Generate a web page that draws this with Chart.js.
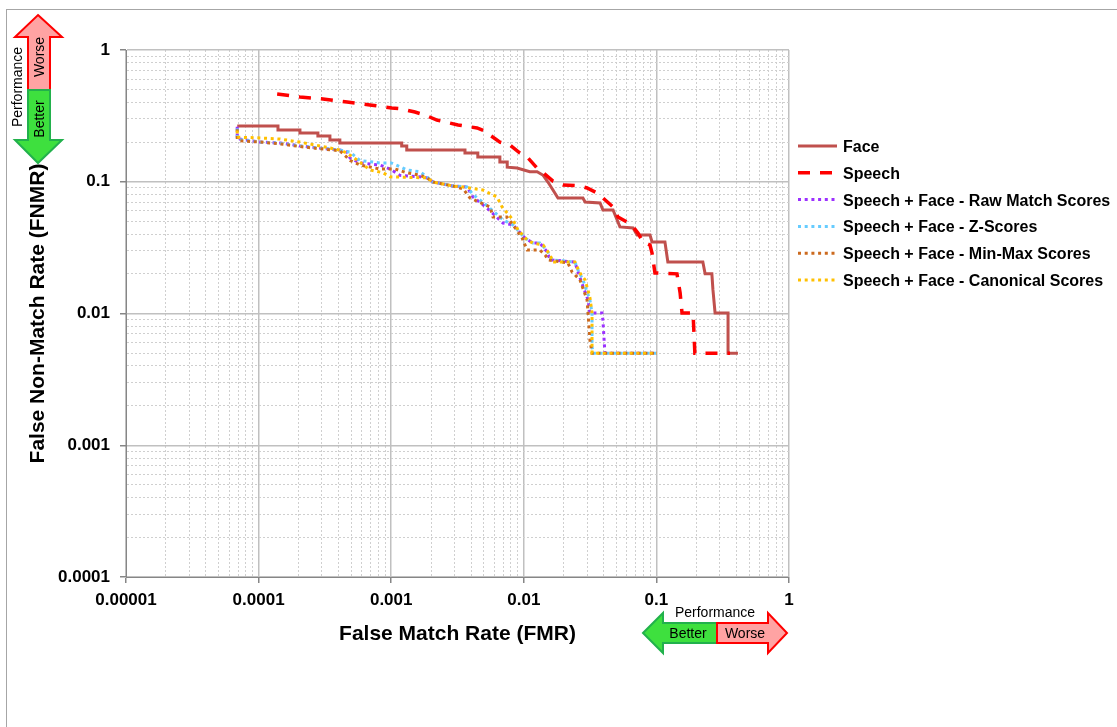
<!DOCTYPE html>
<html>
<head>
<meta charset="utf-8">
<title>FMR vs FNMR</title>
<script src="https://cdn.jsdelivr.net/npm/chart.js@4.4.1/dist/chart.umd.min.js"></script>
<style>
  html, body { margin: 0; padding: 0; background: #fff; overflow: hidden; }
  #wrap { position: relative; width: 1117px; height: 727px; overflow: hidden; }
  #frame { position: absolute; left: 6px; top: 9px; width: 1200px; height: 800px; border: 1px solid #a6a6a6; }
  #chart, #arrows { position: absolute; left: 0; top: 0; }
  #arrows text { font-family: "Liberation Sans", Arial, sans-serif; font-size: 14px; fill: #000; }
</style>
</head>
<body>
<div id="wrap">
  <div id="frame"></div>
  <canvas id="chart" width="1117" height="727"></canvas>
  <svg id="arrows" width="1117" height="727">
    <!-- vertical performance arrow (top left) -->
    <polygon points="38,15 62,37 50,37 50,90 28,90 28,37 15,37" fill="#ffa3a3" stroke="#ff0000" stroke-width="2"/>
    <polygon points="28,90 50,90 50,140 62,140 38,163 15,140 28,140" fill="#3ee03e" stroke="#22b14c" stroke-width="2"/>
    <text transform="translate(44,57) rotate(-90)" text-anchor="middle">Worse</text>
    <text transform="translate(44,119) rotate(-90)" text-anchor="middle">Better</text>
    <text transform="translate(22,87) rotate(-90)" text-anchor="middle">Performance</text>
    <!-- horizontal performance arrow (bottom right) -->
    <polygon points="643,633 663,613 663,623 717,623 717,643 663,643 663,653" fill="#3ee03e" stroke="#22b14c" stroke-width="2"/>
    <polygon points="717,623 768,623 768,613 787,633 768,653 768,643 717,643" fill="#ffa3a3" stroke="#ff0000" stroke-width="2"/>
    <text x="688" y="638" text-anchor="middle">Better</text>
    <text x="745" y="638" text-anchor="middle">Worse</text>
    <text x="715" y="617" text-anchor="middle">Performance</text>
  </svg>
</div>
<script>
// series names, colours and tick labels
const seriesNames = [
    'Face',
    'Speech',
    'Speech + Face - Raw Match Scores',
    'Speech + Face - Z-Scores',
    'Speech + Face - Min-Max Scores',
    'Speech + Face - Canonical Scores'
];
const seriesColors = ['#C0504D', '#FF0000', '#9B30FF', '#66CCFF', '#CC6A1E', '#FFC000'];
const xTickLabels = ['0.00001', '0.0001', '0.001', '0.01', '0.1', '1'];
const yTickLabels = ['0.0001', '0.001', '0.01', '0.1', '1'];

// [FMR, FNMR] pairs
const face = [
    [6.9e-5, 0.265], [1.4e-4, 0.265], [1.4e-4, 0.247], [2.05e-4, 0.247], [2.05e-4, 0.234],
    [2.8e-4, 0.234], [2.8e-4, 0.222], [3.45e-4, 0.222], [3.45e-4, 0.207], [4.1e-4, 0.207],
    [4.1e-4, 0.197], [1.2e-3, 0.197], [1.2e-3, 0.187], [1.31e-3, 0.187], [1.31e-3, 0.174],
    [3.6e-3, 0.174], [3.6e-3, 0.165], [4.5e-3, 0.165], [4.5e-3, 0.154], [6.6e-3, 0.154],
    [6.6e-3, 0.141], [7.5e-3, 0.141], [7.5e-3, 0.129], [8.9e-3, 0.127], [0.0111, 0.119],
    [0.0126, 0.119], [0.014, 0.112], [0.0152, 0.0995], [0.0166, 0.0866], [0.0181, 0.0753],
    [0.0279, 0.0753], [0.029, 0.0702], [0.0376, 0.069], [0.0395, 0.061], [0.0471, 0.061],
    [0.0531, 0.0454], [0.0667, 0.0446], [0.0715, 0.0394], [0.0895, 0.0394], [0.0927, 0.0349],
    [0.116, 0.0349], [0.122, 0.0246], [0.224, 0.0246], [0.233, 0.020], [0.262, 0.020],
    [0.267, 0.0151], [0.277, 0.0101], [0.347, 0.0101], [0.347, 0.0050], [0.412, 0.0050]
];
const speech = [
    [1.38e-4, 0.463], [2.05e-4, 0.44], [3.06e-4, 0.425], [4.65e-4, 0.403], [6.9e-4, 0.383],
    [1.01e-3, 0.363], [1.2e-3, 0.357], [1.51e-3, 0.338], [1.8e-3, 0.321], [2.21e-3, 0.294],
    [3.19e-3, 0.27], [4.44e-3, 0.256], [5.27e-3, 0.239], [5.56e-3, 0.226], [6.61e-3, 0.2],
    [7.87e-3, 0.19], [9.35e-3, 0.165], [0.0106, 0.154], [0.0126, 0.127], [0.014, 0.117],
    [0.0166, 0.101], [0.0198, 0.0945], [0.0265, 0.093], [0.030, 0.0897], [0.0356, 0.0822],
    [0.0395, 0.0753], [0.0471, 0.0643], [0.0513, 0.054], [0.06, 0.0495], [0.0667, 0.0454],
    [0.0726, 0.0408], [0.0793, 0.0349], [0.0895, 0.0331], [0.0927, 0.0288], [0.0975, 0.0203],
    [0.143, 0.020], [0.151, 0.0143], [0.156, 0.0101], [0.189, 0.0101], [0.195, 0.005],
    [0.359, 0.005]
];
const rawScores = [
    [6.9e-5, 0.261], [6.9e-5, 0.215], [7.2e-5, 0.211], [1.03e-4, 0.200], [1.45e-4, 0.197],
    [2.05e-4, 0.187], [2.9e-4, 0.180], [4.1e-4, 0.174], [4.65e-4, 0.168], [4.9e-4, 0.151],
    [5.8e-4, 0.139], [8.2e-4, 0.134], [9.8e-4, 0.125], [1.16e-3, 0.112], [1.65e-3, 0.109],
    [1.86e-3, 0.107], [2.07e-3, 0.0995], [2.92e-3, 0.0929], [3.73e-3, 0.0912], [4.14e-3, 0.0766],
    [5.27e-3, 0.0632], [6.97e-3, 0.0486], [8.3e-3, 0.047], [0.0102, 0.0374], [0.0117, 0.0343],
    [0.0132, 0.0343], [0.015, 0.0293], [0.0158, 0.0255], [0.0243, 0.0246], [0.0256, 0.0207],
    [0.0279, 0.0162], [0.0305, 0.0127], [0.0315, 0.0101], [0.0389, 0.0101], [0.0395, 0.0089],
    [0.0409, 0.005], [0.101, 0.005]
];
const zScores = [
    [6.9e-5, 0.255], [6.9e-5, 0.213], [7.2e-5, 0.209], [1.03e-4, 0.200], [1.45e-4, 0.196],
    [2.05e-4, 0.187], [2.9e-4, 0.180], [4.1e-4, 0.174], [4.9e-4, 0.168], [5.8e-4, 0.145],
    [8.2e-4, 0.139], [1.0e-3, 0.139], [1.31e-3, 0.123], [1.65e-3, 0.119], [1.86e-3, 0.109],
    [2.07e-3, 0.0995], [2.92e-3, 0.0929], [3.73e-3, 0.0912], [4.14e-3, 0.080], [5.27e-3, 0.066],
    [6.97e-3, 0.0513], [8.3e-3, 0.047], [0.0102, 0.0374], [0.0117, 0.0343], [0.0132, 0.0343],
    [0.015, 0.030], [0.0163, 0.0255], [0.0243, 0.0246], [0.0256, 0.0214], [0.0279, 0.018],
    [0.0315, 0.0127], [0.0327, 0.0101], [0.0327, 0.0056], [0.0333, 0.005], [0.101, 0.005]
];
const minMaxScores = [
    [6.9e-5, 0.250], [6.9e-5, 0.211], [7.2e-5, 0.205], [1.03e-4, 0.200], [1.45e-4, 0.194],
    [2.05e-4, 0.185], [2.9e-4, 0.178], [4.1e-4, 0.172], [4.9e-4, 0.145], [5.8e-4, 0.134],
    [8.2e-4, 0.125], [1.07e-3, 0.125], [1.31e-3, 0.117], [1.65e-3, 0.112], [1.86e-3, 0.107],
    [2.07e-3, 0.0995], [2.92e-3, 0.0929], [3.5e-3, 0.088], [3.93e-3, 0.0753], [5.56e-3, 0.0643],
    [5.86e-3, 0.054], [7.46e-3, 0.054], [8.3e-3, 0.047], [9.7e-3, 0.0374], [0.0106, 0.0303],
    [0.0132, 0.0303], [0.0145, 0.0278], [0.0152, 0.0255], [0.0215, 0.0242], [0.0231, 0.0207],
    [0.0265, 0.018], [0.030, 0.0127], [0.0305, 0.0101], [0.0315, 0.0063], [0.0327, 0.005],
    [0.101, 0.005]
];
const canonicalScores = [
    [6.9e-5, 0.245], [6.9e-5, 0.218], [1.03e-4, 0.215], [1.45e-4, 0.211], [2.05e-4, 0.200],
    [2.9e-4, 0.187], [4.1e-4, 0.174], [4.65e-4, 0.165], [5.8e-4, 0.141], [6.9e-4, 0.123],
    [8.7e-4, 0.117], [9.8e-4, 0.109], [1.86e-3, 0.107], [2.07e-3, 0.0995], [2.92e-3, 0.0929],
    [3.5e-3, 0.0912], [4.92e-3, 0.0866], [6.28e-3, 0.0766], [6.86e-3, 0.0643], [8.3e-3, 0.0513],
    [9.04e-3, 0.0431], [0.0106, 0.0361], [0.0117, 0.0343], [0.014, 0.0331], [0.0158, 0.0278],
    [0.0166, 0.0246], [0.0243, 0.0246], [0.0265, 0.0203], [0.029, 0.018], [0.0315, 0.0133],
    [0.0327, 0.0101], [0.0327, 0.005], [0.101, 0.005]
];

const seriesData = [face, speech, rawScores, zScores, minMaxScores, canonicalScores];
const seriesDash = [[], [12, 10], [3, 3.7], [3, 3.7], [3, 3.7], [3, 3.7]];
const seriesWidth = [3, 3.5, 3, 3, 3, 3];

const FONT = '"Liberation Sans", Arial, sans-serif';

function isDecade(v) {
    const l = Math.log10(v);
    return Math.abs(l - Math.round(l)) < 1e-6;
}

// gridlines at 1..9 x 10^n, like Excel's log axis
function logTicks(minExp, maxExp) {
    const t = [];
    for (let e = minExp; e < maxExp; e++) {
        for (let m = 1; m < 10; m++) t.push({ value: m * Math.pow(10, e) });
    }
    t.push({ value: Math.pow(10, maxExp) });
    return t;
}

function axisOptions(minExp, maxExp, labels, titleText, isX) {
    return {
        type: 'logarithmic',
        min: Math.pow(10, minExp),
        max: Math.pow(10, maxExp),
        afterBuildTicks: scale => { scale.ticks = logTicks(minExp, maxExp); },
        afterFit: scale => {
            if (isX) scale.height = 150; else scale.width = 126;
        },
        ticks: {
            autoSkip: false,
            maxRotation: 0,
            padding: isX ? 7 : 10,
            color: '#000',
            font: { family: FONT, size: 17, weight: 'bold' },
            callback: value => isDecade(value) ? labels[Math.round(Math.log10(value)) - minExp] : ''
        },
        grid: {
            color: ctx => ctx.tick && isDecade(ctx.tick.value) ? '#c0c0c0' : '#cfcfcf',
            lineWidth: ctx => ctx.tick && isDecade(ctx.tick.value) ? 1.5 : 1,
            tickColor: ctx => ctx.tick && isDecade(ctx.tick.value) ? '#868686' : 'rgba(0,0,0,0)',
            tickLength: 6,
            tickBorderDash: []
        },
        border: {
            display: true,
            color: '#868686',
            width: 1,
            dash: ctx => (ctx.tick && !isDecade(ctx.tick.value)) ? [2, 2] : []
        },
        title: {
            display: true,
            text: titleText,
            color: '#000',
            font: { family: FONT, size: 21, weight: 'bold' },
            padding: isX ? { top: 0, bottom: 80 } : { top: 26, bottom: 0 }
        }
    };
}

// legend drawn to the right of the plot, like the Excel one
const sideLegend = {
    id: 'sideLegend',
    afterDraw(chart) {
        const ctx = chart.ctx;
        ctx.save();
        chart.data.datasets.forEach((ds, i) => {
            const y = 146 + i * 26.8;
            ctx.beginPath();
            ctx.strokeStyle = ds.borderColor;
            ctx.lineWidth = ds.borderWidth;
            ctx.setLineDash(ds.borderDash);
            ctx.moveTo(798, y);
            ctx.lineTo(837, y);
            ctx.stroke();
            ctx.setLineDash([]);
            ctx.fillStyle = '#000';
            ctx.font = 'bold 16px ' + FONT;
            ctx.textBaseline = 'middle';
            ctx.fillText(ds.label, 843, y + 1.5);
        });
        ctx.restore();
    }
};

new Chart(document.getElementById('chart'), {
    type: 'line',
    data: {
        datasets: seriesNames.map((name, i) => ({
            label: name,
            data: seriesData[i].map(p => ({ x: p[0], y: p[1] })),
            borderColor: seriesColors[i],
            backgroundColor: seriesColors[i],
            borderWidth: seriesWidth[i],
            borderDash: seriesDash[i],
            pointRadius: 0,
            tension: 0,
            fill: false,
            order: seriesNames.length - i
        }))
    },
    options: {
        responsive: false,
        animation: false,
        devicePixelRatio: 1,
        layout: { padding: { left: 0, top: 50, right: 328, bottom: 0 } },
        plugins: {
            legend: { display: false },
            tooltip: { enabled: false }
        },
        scales: {
            x: axisOptions(-5, 0, xTickLabels, 'False Match Rate (FMR)', true),
            y: axisOptions(-4, 0, yTickLabels, 'False Non-Match Rate (FNMR)', false)
        }
    },
    plugins: [sideLegend]
});
</script>
</body>
</html>
